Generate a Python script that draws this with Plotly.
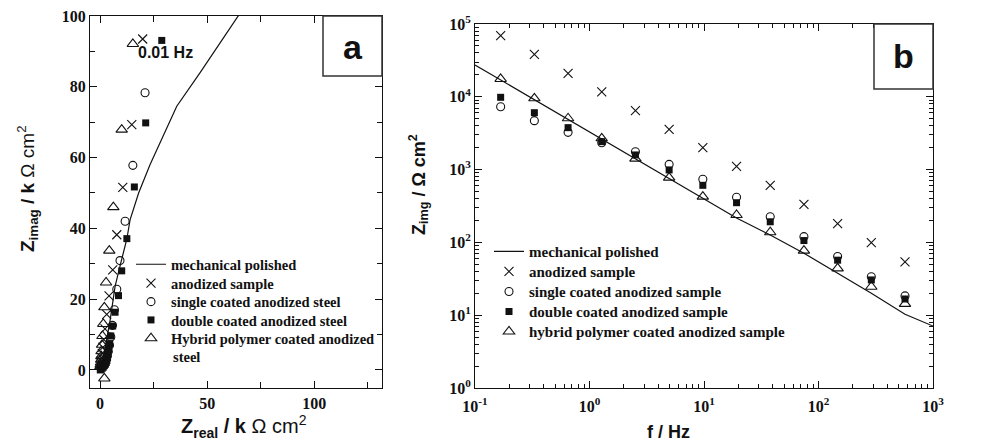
import plotly.graph_objects as go

W, H = 994, 448

# ---------------- Nyquist data (k ohm cm^2) ----------------
polished_re = [0, 2.0, 4.7, 7.0, 10.0, 12.5, 14.0, 18.0, 23.3, 25.0, 35.8, 46.7, 64.1, 70.0]
polished_im = [0, 5.0, 14.1, 23.6, 31.0, 37.0, 42.4, 50.0, 58.0, 60.3, 74.5, 84.0, 100.0, 105.0]

anod_re = [19.9, 14.8, 10.6, 7.8, 5.9, 4.2, 3.1, 2.3, 1.7, 1.3, 1.0, 0.75, 0.55, 0.4, 0.3]
anod_im = [93.5, 69.3, 51.6, 38.2, 28.3, 20.9, 15.7, 11.6, 8.6, 6.4, 4.7, 3.5, 2.6, 1.9, 1.4]

single_re = [21.0, 15.3, 11.7, 9.3, 7.8, 6.7, 5.8, 5.0, 4.4, 3.8, 3.3, 2.8, 2.4]
single_im = [78.3, 57.8, 42.0, 30.9, 22.8, 17.0, 12.6, 9.3, 7.0, 5.2, 3.9, 2.9, 2.1]

double_re = [28.8, 21.3, 16.0, 12.5, 10.1, 8.6, 7.0, 5.9, 5.0, 4.5, 4.1, 3.8, 3.5, 3.2,
             2.9, 2.5, 2.0, 1.5, 1.0, 0.5, 0.1]
double_im = [93.1, 69.8, 51.7, 37.1, 28.0, 21.0, 16.3, 12.4, 9.6, 7.4, 5.8, 4.5, 3.5, 2.7,
             2.1, 1.6, 1.2, 0.8, 0.5, 0.2, 0.0]

hybrid_re = [15.3, 10.1, 6.2, 4.3, 2.8, 2.0, 1.5, 1.1, 0.9, 0.7, 0.6, 0.5, 0.4, 0.3, 0.2, 2.0]
hybrid_im = [92.1, 67.9, 46.0, 33.7, 24.7, 17.7, 13.0, 9.6, 7.1, 5.3, 3.9, 2.9, 2.1, 1.5, 1.0, -2.4]

# ---------------- Bode data (ohm cm^2) ----------------
freq = [0.1675, 0.330, 0.650, 1.279, 2.519, 4.961, 9.768, 19.24, 37.88, 74.6, 146.9, 289.3, 569.6]
anod_zimg = [69000, 38300, 21000, 11700, 6460, 3570, 2000, 1110, 608, 333, 181, 99, 54]
single_zimg = [7310, 4700, 3250, 2340, 1760, 1180, 736, 417, 225, 120, 64, 33.8, 18.4]
double_zimg = [9840, 6050, 3770, 2420, 1590, 990, 608, 351, 192, 106, 57, 30.5, 16.7]
hybrid_zimg = [17600, 9530, 5070, 2690, 1413, 776, 425, 238, 138, 77, 44, 24.6, 14.3]

polished_freq = [0.1] + freq + [1000]
polished_zimg = [27400, 17000, 9130, 4880, 2620, 1406, 754, 404, 217, 126, 71, 37.6, 20, 10.3, 7.1]

names_a = ["mechanical polished", "anodized sample", "single coated anodized steel",
           "double coated anodized steel", "Hybrid polymer coated anodized"]
names_b = ["mechanical polished", "anodized sample", "single coated anodized sample",
           "double coated anodized sample", "hybrid polymer coated anodized sample"]


def px(x):
    return x / W


def py(y):
    return 1 - y / H


INK = "#111111"
markers = [
    dict(symbol="x-thin-open", size=9, color=INK, line=dict(width=1.1, color=INK)),
    dict(symbol="circle-open", size=8, color=INK, line=dict(width=1.1, color=INK)),
    dict(symbol="square", size=7, color=INK, line=dict(width=0, color=INK)),
    dict(symbol="triangle-up-open", size=10, color=INK, line=dict(width=1.1, color=INK)),
]

# one single-entry legend per series so each row sits at its own height
rows_a = [264.3, 283.3, 301.7, 320.0, 338.3]
rows_b = [251.7, 271.7, 291.7, 311.7, 331.7]
leg_a = ["legend" if i == 0 else f"legend{i + 1}" for i in range(5)]
leg_b = [f"legend{i + 6}" for i in range(5)]

fig = go.Figure()

# panel a: Nyquist
fig.add_trace(go.Scatter(x=polished_re, y=polished_im, mode="lines", name=names_a[0],
                         line=dict(color=INK, width=1.2), xaxis="x", yaxis="y", legend=leg_a[0]))
for i, (xs, ys, mk) in enumerate(zip([anod_re, single_re, double_re, hybrid_re],
                                     [anod_im, single_im, double_im, hybrid_im], markers)):
    fig.add_trace(go.Scatter(x=xs, y=ys, mode="markers", name=names_a[i + 1], marker=mk,
                             xaxis="x", yaxis="y", legend=leg_a[i + 1]))

# panel b: Bode (imaginary part)
fig.add_trace(go.Scatter(x=polished_freq, y=polished_zimg, mode="lines", name=names_b[0],
                         line=dict(color=INK, width=1.2), xaxis="x2", yaxis="y2", legend=leg_b[0]))
for i, (ys, mk) in enumerate(zip([anod_zimg, single_zimg, double_zimg, hybrid_zimg], markers)):
    fig.add_trace(go.Scatter(x=freq, y=ys, mode="markers", name=names_b[i + 1], marker=mk,
                             xaxis="x2", yaxis="y2", legend=leg_b[i + 1]))

tickfont = dict(family="Liberation Serif", size=16, color=INK, weight="bold")
common = dict(showline=True, linecolor=INK, linewidth=1, mirror="allticks", ticks="inside",
              ticklen=7, tickwidth=1, tickcolor=INK, showgrid=False, zeroline=False,
              tickfont=tickfont, automargin=False)

minor_log_x = [k * 10 ** e for e in range(-1, 3) for k in range(2, 10)]
minor_log_y = [k * 10 ** e for e in range(0, 5) for k in range(2, 10)]

legfont_a = dict(family="Liberation Serif", size=14.5, color=INK, weight="bold")
legfont_b = dict(family="Liberation Serif", size=15, color=INK, weight="bold")
legends = {}
for key, yrow in zip(leg_a, rows_a):
    legends[key] = dict(x=px(131), y=py(yrow), xanchor="left", yanchor="middle",
                        bgcolor="rgba(0,0,0,0)", font=legfont_a, borderwidth=0)
for key, yrow in zip(leg_b, rows_b):
    legends[key] = dict(x=px(489), y=py(yrow), xanchor="left", yanchor="middle",
                        bgcolor="rgba(0,0,0,0)", font=legfont_b, borderwidth=0)

fig.update_layout(
    width=W, height=H, margin=dict(l=0, r=0, t=0, b=0),
    paper_bgcolor="white", plot_bgcolor="white", template="none",
    showlegend=True,
    xaxis=dict(domain=[px(90), px(382)], range=[-4.7, 131.6], tickvals=[0, 50, 100],
               minor=dict(tickvals=[25, 75, 125], ticks="inside", ticklen=6, tickcolor=INK),
               ticklabelstandoff=1, anchor="y", **common),
    yaxis=dict(domain=[py(388), py(16)], range=[-5.1, 100], tickvals=[0, 20, 40, 60, 80, 100],
               minor=dict(tickvals=[10, 30, 50, 70, 90], ticks="inside", ticklen=5, tickcolor=INK),
               anchor="x", **common),
    xaxis2=dict(domain=[px(475), px(933)], type="log", range=[-1, 3],
                tickvals=[0.1, 1, 10, 100, 1000],
                ticktext=["10<sup>-1</sup>", "10<sup>0</sup>", "10<sup>1</sup>", "10<sup>2</sup>", "10<sup>3</sup>"],
                minor=dict(tickvals=minor_log_x, ticks="inside", ticklen=4, tickcolor=INK),
                ticklabelstandoff=4, anchor="y2", **common),
    yaxis2=dict(domain=[py(388), py(24)], type="log", range=[0, 5],
                tickvals=[1, 10, 100, 1000, 10000, 100000],
                ticktext=["10<sup>0</sup>", "10<sup>1</sup>", "10<sup>2</sup>", "10<sup>3</sup>", "10<sup>4</sup>", "10<sup>5</sup>"],
                minor=dict(tickvals=minor_log_y, ticks="inside", ticklen=4, tickcolor=INK),
                anchor="x2", **common),
    **legends,
)

# panel label boxes
for (x0, y0, x1, y1) in [(323, 16, 382, 76), (874, 24, 933, 89)]:
    fig.add_shape(type="rect", xref="paper", yref="paper", x0=px(x0), x1=px(x1), y0=py(y1), y1=py(y0),
                  line=dict(color="#333333", width=1.5), fillcolor="white", layer="above")

sans = "Liberation Sans"
annos = [
    dict(text="<b>a</b>", x=352.5, y=46.5, size=34, angle=0),
    dict(text="<b>b</b>", x=903.5, y=56.5, size=34, angle=0),
    dict(text="<b>0.01 Hz</b>", x=165.5, y=53, size=16, angle=0),
    dict(text="<b>Z<sub>real</sub> / k</b> Ω cm<sup>2</sup>", x=244, y=426, size=20, angle=0),
    dict(text="<b>Z<sub>imag</sub> / k</b> Ω cm<sup>2</sup>", x=27, y=189, size=19, angle=-90),
    dict(text="<b>Z<sub>img</sub> / Ω cm<sup>2</sup></b>", x=418, y=185, size=18, angle=-90),
    dict(text="<b>f / Hz</b>", x=668, y=432, size=18, angle=0),
]
for a in annos:
    fig.add_annotation(text=a["text"], x=px(a["x"]), y=py(a["y"]), xref="paper", yref="paper",
                       showarrow=False, xanchor="center", yanchor="middle", textangle=a["angle"],
                       font=dict(family=sans, size=a["size"], color=INK))

# second line of the hybrid-polymer legend entry in panel a
fig.add_annotation(text="<b>steel</b>", x=px(171), y=py(356.7), xref="paper", yref="paper",
                   showarrow=False, xanchor="left", yanchor="middle",
                   font=dict(family="Liberation Serif", size=14.5, color=INK))

fig.write_html("out.html")
